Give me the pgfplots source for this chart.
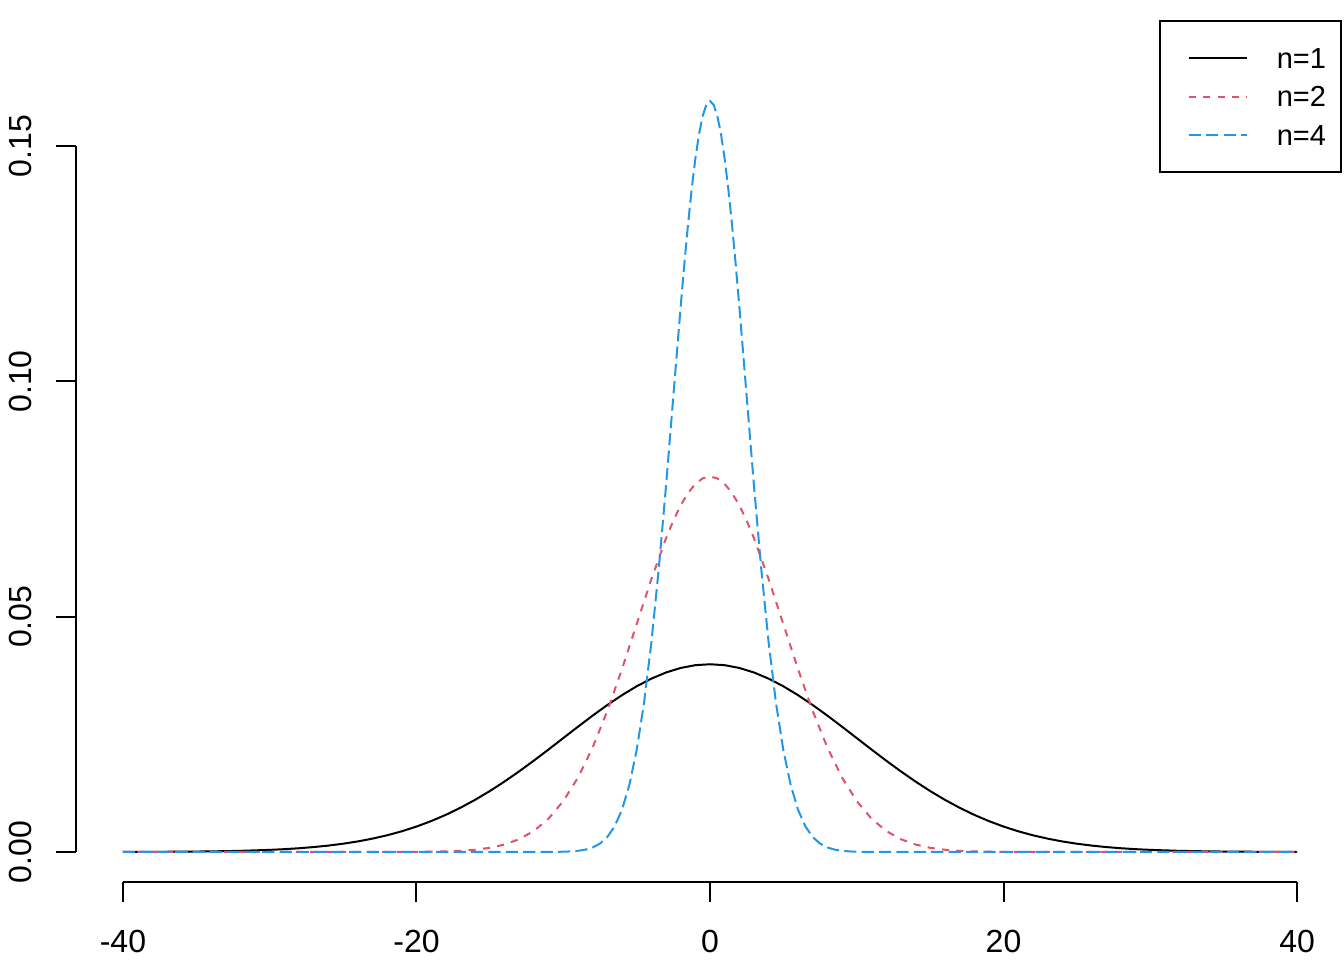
\documentclass[border=0pt]{standalone}
\usepackage{pgfplots}
\pgfplotsset{compat=1.18}
\usepackage{fontspec}
\setmainfont{Liberation Sans}
\definecolor{rred}{HTML}{DF536B}
\definecolor{rblue}{HTML}{2297E6}
\begin{document}
\fontsize{14.5}{17}\selectfont
\begin{tikzpicture}
\path[use as bounding box] (0,0) rectangle (672pt,480pt);
\begin{axis}[
  at={(38pt,39pt)}, anchor=south west,
  scale only axis, width=634pt, height=405.5pt,
  xmin=-43.2, xmax=43.2, ymin=-0.0063833, ymax=0.16597,
  clip=false,
  separate axis lines,
  axis x line*=bottom, axis y line*=left,
  axis line style={draw=none},
  tick align=outside,
  major tick length=10pt,
  every tick/.style={black, line width=1pt},
  xtick={-40,-20,0,20,40},
  xticklabels={-40,-20,0,20,40},
  ytick={0,0.05,0.1,0.15},
  yticklabels={0.00,0.05,0.10,0.15},
  xticklabel style={anchor=north, inner sep=0pt, yshift=-14pt},
  yticklabel style={rotate=90, anchor=south, inner sep=0pt, yshift=12pt},
  tick label style={font=\fontsize{16}{19}\selectfont},
  legend style={at={(axis description cs:0.99842,1.0629)}, anchor=north east,
    draw=black, line width=1pt, inner xsep=7.5pt, inner ysep=9pt,
    column sep=14.5pt, row sep=0pt,
    nodes={inner sep=0pt, text height=14.8pt, text depth=4.4pt},
    font=\fontsize{14.5}{17}\selectfont},
  legend cell align=left,
  legend image code/.code={\path[draw=none,fill=none] (-7pt,0pt) -- (29pt,0pt); \draw[#1] (0pt,0pt) -- (29pt,0pt);},
]
\draw[line width=1pt] (axis cs:-40,-0.0063833) -- (axis cs:40,-0.0063833);
\draw[line width=1pt] (axis cs:-43.2,0) -- (axis cs:-43.2,0.15);

\addplot[black, line width=1pt, mark=none] coordinates {
(-40,0.0000134)(-38,0.0000292)(-36,0.0000612)(-34,0.000123)(-32,0.000238)
(-30,0.000443)(-29,0.000595)(-28,0.000792)(-27,0.001042)(-26,0.001358)
(-25,0.001753)(-24,0.002239)(-23,0.002833)(-22,0.003547)(-21,0.004398)
(-20,0.005399)(-19,0.006562)(-18,0.007895)(-17,0.009405)(-16,0.011092)
(-15,0.012952)(-14,0.014973)(-13,0.017137)(-12,0.019419)(-11,0.021785)
(-10,0.024197)(-9,0.026609)(-8,0.028969)(-7,0.031225)(-6,0.033322)
(-5,0.035207)(-4,0.036827)(-3,0.038139)(-2,0.039104)(-1,0.039695)
(0,0.039894)
(1,0.039695)(2,0.039104)(3,0.038139)(4,0.036827)(5,0.035207)
(6,0.033322)(7,0.031225)(8,0.028969)(9,0.026609)(10,0.024197)
(11,0.021785)(12,0.019419)(13,0.017137)(14,0.014973)(15,0.012952)
(16,0.011092)(17,0.009405)(18,0.007895)(19,0.006562)(20,0.005399)
(21,0.004398)(22,0.003547)(23,0.002833)(24,0.002239)(25,0.001753)
(26,0.001358)(27,0.001042)(28,0.000792)(29,0.000595)(30,0.000443)
(32,0.000238)(34,0.000123)(36,0.0000612)(38,0.0000292)(40,0.0000134)
};
\addlegendentry{n=1}

\addplot[rred, line width=1pt, dash pattern=on 3.6pt off 3.6pt, mark=none] coordinates {
(-40,0)(-35,0)(-30,0)(-25,0.0000003)(-22,0.000005)
(-20,0.0000268)(-19,0.0000584)(-18,0.000122)(-17,0.000246)(-16,0.000477)
(-15,0.000886)(-14,0.001583)(-13,0.002717)(-12,0.004479)(-11,0.007095)
(-10,0.010798)(-9,0.015790)(-8,0.022184)(-7,0.029945)(-6,0.038837)
(-5,0.048394)(-4,0.057938)(-3,0.066645)(-2.5,0.070413)(-2,0.073654)
(-1.5,0.076278)(-1,0.078209)(-0.5,0.079391)
(0,0.079788)
(0.5,0.079391)(1,0.078209)(1.5,0.076278)(2,0.073654)(2.5,0.070413)
(3,0.066645)(4,0.057938)(5,0.048394)
(6,0.038837)(7,0.029945)(8,0.022184)(9,0.015790)(10,0.010798)
(11,0.007095)(12,0.004479)(13,0.002717)(14,0.001583)(15,0.000886)
(16,0.000477)(17,0.000246)(18,0.000122)(19,0.0000584)(20,0.0000268)
(22,0.000005)(25,0.0000003)(30,0)(35,0)(40,0)
};
\addlegendentry{n=2}

\addplot[rblue, line width=1pt, dash pattern=on 6.1pt off 2.6pt, mark=none] coordinates {
(-40,0)(-35,0)(-30,0)(-25,0)(-20,0)(-15,0)
(-12,0.0000016)(-11,0.00001)(-10,0.0000535)(-9.5,0.000117)(-9,0.000245)
(-8.5,0.000493)(-8,0.000954)(-7.5,0.001773)(-7,0.003166)(-6.5,0.005433)
(-6,0.008958)(-5.5,0.014190)(-5,0.021596)(-4.5,0.031580)(-4,0.044368)
(-3.5,0.059891)(-3,0.077675)(-2.5,0.096788)(-2,0.115877)(-1.75,0.124902)
(-1.5,0.133290)(-1.25,0.140826)(-1,0.147308)(-0.75,0.152555)(-0.5,0.156417)
(-0.25,0.158781)(0,0.159577)
(0.25,0.158781)(0.5,0.156417)(0.75,0.152555)(1,0.147308)(1.25,0.140826)
(1.5,0.133290)(1.75,0.124902)(2,0.115877)(2.5,0.096788)
(3,0.077675)(3.5,0.059891)(4,0.044368)(4.5,0.031580)(5,0.021596)
(5.5,0.014190)(6,0.008958)(6.5,0.005433)(7,0.003166)(7.5,0.001773)
(8,0.000954)(8.5,0.000493)(9,0.000245)(9.5,0.000117)(10,0.0000535)
(11,0.00001)(12,0.0000016)
(15,0)(20,0)(25,0)(30,0)(35,0)(40,0)
};
\addlegendentry{n=4}
\end{axis}
\end{tikzpicture}
\end{document}
